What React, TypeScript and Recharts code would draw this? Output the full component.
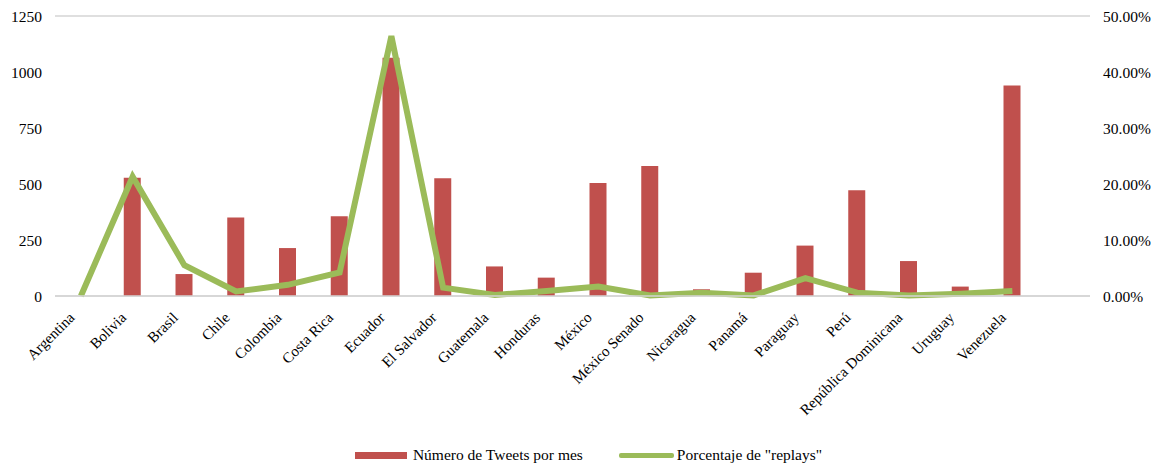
import {
  Bar,
  CartesianGrid,
  ComposedChart,
  Legend,
  Line,
  XAxis,
  YAxis,
} from "recharts";

// countries (last slot is blank, as in the source sheet)
const countries = [
  "Argentina",
  "Bolivia",
  "Brasil",
  "Chile",
  "Colombia",
  "Costa Rica",
  "Ecuador",
  "El Salvador",
  "Guatemala",
  "Honduras",
  "México",
  "México Senado",
  "Nicaragua",
  "Panamá",
  "Paraguay",
  "Perú",
  "República Dominicana",
  "Uruguay",
  "Venezuela",
  "",
];

const tweetsPerMonth = [
  0, 528, 98, 350, 214, 356, 1064, 526, 132, 82, 505, 580, 30, 104, 225, 472,
  156, 42, 940, null,
];

// share of replies, as fraction
const replyShare = [
  0, 0.213, 0.055, 0.008, 0.02, 0.042, 0.464, 0.015, 0.002, 0.009, 0.017,
  0.001, 0.006, 0.001, 0.032, 0.006, 0.001, 0.004, 0.009, null,
];

const leftTicks = [0, 250, 500, 750, 1000, 1250];
const rightTicks = [0, 0.1, 0.2, 0.3, 0.4, 0.5];

const data = countries.map((name, i) => ({
  name,
  tweets: tweetsPerMonth[i],
  replies: replyShare[i],
}));

const FONT = '"Liberation Serif", "Times New Roman", serif';
const RED = "#C0504D";
const GREEN = "#9BBB59";

function LegendBox() {
  return (
    <div
      style={{
        display: "flex",
        justifyContent: "center",
        alignItems: "center",
        height: 30,
        fontFamily: FONT,
        fontSize: 15.5,
        color: "#000",
        paddingLeft: 14,
      }}
    >
      <span style={{ display: "inline-block", width: 52, height: 7, background: RED, marginRight: 6 }} />
      <span style={{ marginRight: 36 }}>Número de Tweets por mes</span>
      <span style={{ display: "inline-block", width: 55, height: 5, background: GREEN, borderRadius: 2, marginRight: 3 }} />
      <span>Porcentaje de "replays"</span>
    </div>
  );
}

export default function App() {
  return (
    <div style={{ position: "absolute", left: 0, top: 0, width: 1163, height: 470, background: "#fff" }}>
      <ComposedChart
        width={1163}
        height={470}
        data={data}
        margin={{ top: 16, right: 0, bottom: 0, left: 0 }}
        barCategoryGap={0}
        style={{ fontFamily: FONT }}
      >
        <CartesianGrid vertical={false} stroke="#d4d4d4" strokeWidth={1.5} />
        <XAxis
          dataKey="name"
          interval={0}
          height={144}
          axisLine={{ stroke: "#d4d4d4", strokeWidth: 1.5 }}
          tickLine={false}
          tickSize={0}
          tick={{ fontFamily: FONT, fontSize: 15, fill: "#000", angle: -45, textAnchor: "end", dx: -13, dy: 13 }}
        />
        <YAxis
          yAxisId="left"
          domain={[0, 1250]}
          ticks={leftTicks}
          width={55}
          axisLine={false}
          tickLine={false}
          tickSize={0}
          tickMargin={13}
          tick={{ fontFamily: FONT, fontSize: 15.5, fill: "#000" }}
        />
        <YAxis
          yAxisId="right"
          orientation="right"
          domain={[0, 0.5]}
          ticks={rightTicks}
          width={73}
          axisLine={false}
          tickLine={false}
          tickSize={0}
          tickMargin={13}
          tickFormatter={(v: number) => `${(v * 100).toFixed(2)}%`}
          tick={{ fontFamily: FONT, fontSize: 15.5, fill: "#000", textAnchor: "start" }}
        />
        <Legend verticalAlign="bottom" content={() => <LegendBox />} />
        <Bar
          yAxisId="left"
          dataKey="tweets"
          name="Número de Tweets por mes"
          fill={RED}
          barSize={17}
          isAnimationActive={false}
        />
        <Line
          yAxisId="right"
          dataKey="replies"
          name='Porcentaje de "replays"'
          type="linear"
          stroke={GREEN}
          strokeWidth={6}
          dot={false}
          activeDot={false}
          connectNulls={false}
          isAnimationActive={false}
        />
      </ComposedChart>
    </div>
  );
}
